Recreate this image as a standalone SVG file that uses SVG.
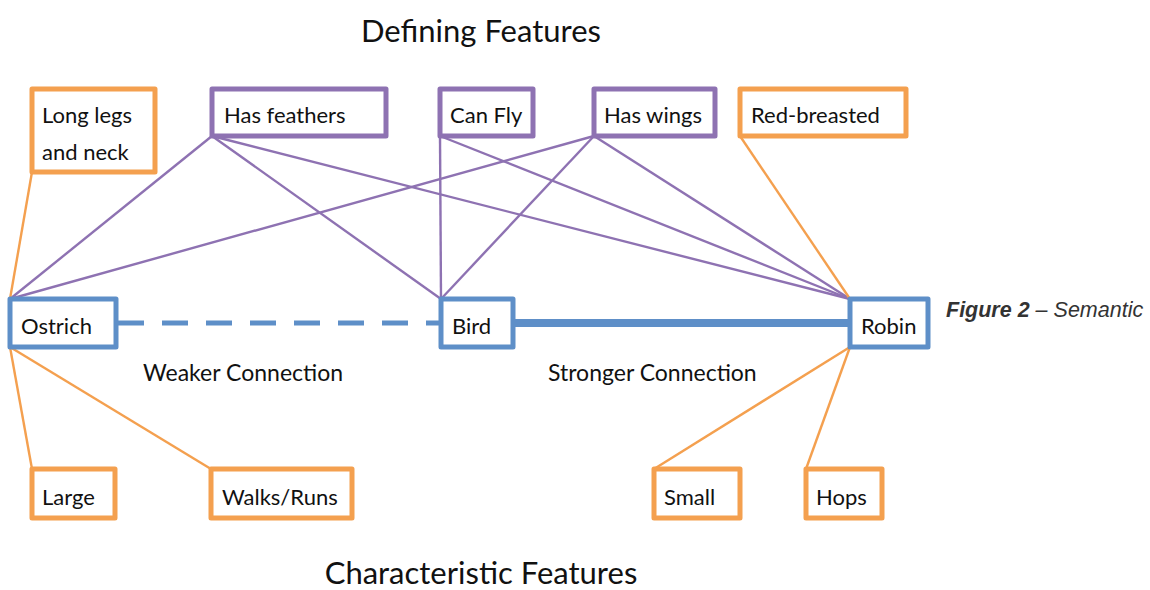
<svg xmlns="http://www.w3.org/2000/svg" width="1150" height="590" viewBox="0 0 1150 590">
  <style>
    .box { fill: #ffffff; stroke-width: 5; stroke-linejoin: round; }
    .def { stroke: #8E72B2; }
    .char { stroke: #F4A04F; }
    .concept { stroke: #5E8FC8; }
    .lbl { font-family: Lato, "Open Sans", sans-serif; font-size: 22px; fill: #111111; }
    .title { font-family: Lato, "Open Sans", sans-serif; font-size: 31px; fill: #111111; text-anchor: middle; }
    .note { font-family: Lato, "Open Sans", sans-serif; font-size: 23px; fill: #111111; }
    .pl { stroke: #8E72B2; stroke-width: 2.4; fill: none; }
    .ol { stroke: #F4A04F; stroke-width: 2.4; fill: none; }
    .cap { font-family: "Liberation Sans", Arial, sans-serif; font-size: 21.5px; fill: #333333; font-style: italic; }
  </style>

  <rect width="1150" height="590" fill="#ffffff"/>

  <text class="title" x="481" y="42">Defining Features</text>
  <text class="title" x="481" y="584">Characteristic Features</text>

  <!-- connectors -->
  <g id="connectors">
    <!-- defining features -->
    <line class="pl" x1="212" y1="136" x2="10" y2="299"/>
    <line class="pl" x1="212" y1="136" x2="441" y2="299"/>
    <line class="pl" x1="212" y1="136" x2="850" y2="299"/>
    <line class="pl" x1="440" y1="136" x2="441" y2="299"/>
    <line class="pl" x1="440" y1="136" x2="850" y2="299"/>
    <line class="pl" x1="594" y1="136" x2="10" y2="299"/>
    <line class="pl" x1="594" y1="136" x2="441" y2="299"/>
    <line class="pl" x1="594" y1="136" x2="850" y2="299"/>
    <!-- characteristic features -->
    <line class="ol" x1="32" y1="172" x2="10" y2="299"/>
    <line class="ol" x1="740" y1="136" x2="850" y2="299"/>
    <line class="ol" x1="10" y1="347" x2="32" y2="469"/>
    <line class="ol" x1="10" y1="347" x2="211" y2="469"/>
    <line class="ol" x1="850" y1="347" x2="654" y2="469"/>
    <line class="ol" x1="850" y1="347" x2="806" y2="469"/>
    <!-- concept links -->
    <line x1="118" y1="323" x2="441" y2="323" stroke="#5E8FC8" stroke-width="5" stroke-dasharray="26 18"/>
    <line x1="513" y1="323" x2="850" y2="323" stroke="#5E8FC8" stroke-width="8"/>
  </g>

  <!-- defining feature nodes -->
  <g id="has-feathers">
    <rect class="box def" x="212" y="89" width="174" height="47"/>
    <text class="lbl" x="224" y="123">Has feathers</text>
  </g>
  <g id="can-fly">
    <rect class="box def" x="440" y="89" width="93" height="47"/>
    <text class="lbl" x="450" y="123">Can Fly</text>
  </g>
  <g id="has-wings">
    <rect class="box def" x="594" y="89" width="121" height="47"/>
    <text class="lbl" x="604" y="123">Has wings</text>
  </g>

  <!-- characteristic feature nodes -->
  <g id="long-legs">
    <rect class="box char" x="32" y="89" width="123" height="83"/>
    <text class="lbl" x="42" y="123">Long legs</text>
    <text class="lbl" x="42" y="160">and neck</text>
  </g>
  <g id="red-breasted">
    <rect class="box char" x="740" y="89" width="166" height="47"/>
    <text class="lbl" x="751" y="123">Red-breasted</text>
  </g>
  <g id="large">
    <rect class="box char" x="32" y="469" width="83" height="49"/>
    <text class="lbl" x="42" y="505">Large</text>
  </g>
  <g id="walks-runs">
    <rect class="box char" x="211" y="469" width="141" height="49"/>
    <text class="lbl" x="222" y="505">Walks/Runs</text>
  </g>
  <g id="small">
    <rect class="box char" x="654" y="469" width="86" height="49"/>
    <text class="lbl" x="664" y="505">Small</text>
  </g>
  <g id="hops">
    <rect class="box char" x="806" y="469" width="76" height="49"/>
    <text class="lbl" x="816" y="505">Hops</text>
  </g>

  <!-- concept nodes -->
  <g id="ostrich">
    <rect class="box concept" x="10" y="299" width="106" height="48"/>
    <text class="lbl" x="21" y="334">Ostrich</text>
  </g>
  <g id="bird">
    <rect class="box concept" x="441" y="299" width="72" height="48"/>
    <text class="lbl" x="452" y="334">Bird</text>
  </g>
  <g id="robin">
    <rect class="box concept" x="850" y="299" width="78" height="48"/>
    <text class="lbl" x="861" y="334">Robin</text>
  </g>

  <!-- link labels -->
  <text class="note" x="143" y="381">Weaker Connection</text>
  <text class="note" x="548" y="381">Stronger Connection</text>

  <text class="cap" x="946" y="317"><tspan font-weight="bold">Figure 2</tspan> – Semantic</text>
</svg>
